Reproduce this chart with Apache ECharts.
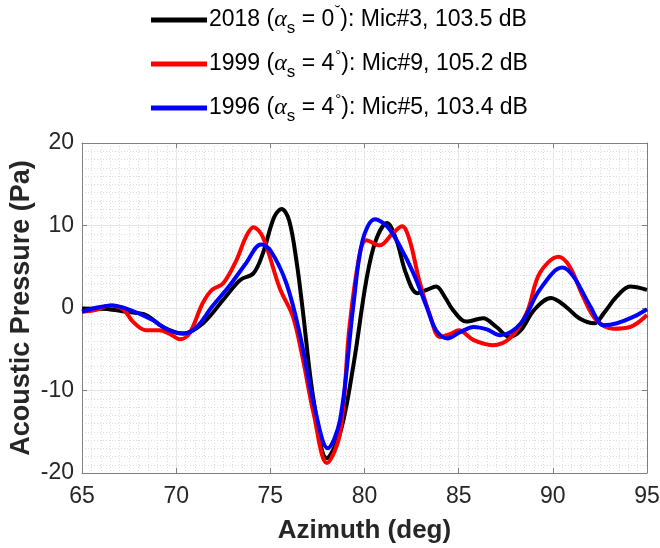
<!DOCTYPE html>
<html><head><meta charset="utf-8">
<script src="https://cdn.jsdelivr.net/npm/echarts@6/dist/echarts.min.js"></script>
<style>html,body{margin:0;padding:0;background:#fff}#c{width:660px;height:548px}</style>
</head><body><div id="c"></div>
<script>
var seriesNames = ['2018', '1999', '1996'];
var legendAngles = ['0', '4', '4'];
var legendMarks = ['˘', '°', '°'];
var legendMics = ['Mic#3, 103.5 dB', 'Mic#9, 105.2 dB', 'Mic#5, 103.4 dB'];
var xTicks = [65, 70, 75, 80, 85, 90, 95];
var yTicks = [-20, -10, 0, 10, 20];

var data2018 = [[65,-0.05],[66,-0.1],[66.6,-0.2],[67.5,-0.5],[68.4,-0.85],[69.3,-2.3],[70.35,-3.1],[71.4,-1.9],[72.5,1.0],[73.4,3.4],[74.1,4.2],[74.6,6.6],[75.2,11.0],[75.6,12.0],[76.0,10.6],[76.4,5.5],[76.7,0.15],[77.3,-11.2],[78.0,-18.2],[78.7,-15.2],[79.4,-7.1],[80.1,3.4],[80.6,8.2],[81.2,10.3],[81.7,8.2],[82.2,4.2],[82.8,1.8],[83.3,2.2],[83.8,2.6],[84.3,1.2],[84.7,-0.25],[85.4,-1.65],[86.3,-1.25],[87.0,-2.3],[87.7,-3.5],[88.3,-2.7],[89.0,-0.25],[89.9,1.2],[90.7,0.15],[91.4,-1.25],[92.2,-1.85],[92.7,-0.65],[93.4,1.4],[94.1,2.6],[95,2.2]];
var data1999 = [[65,-0.45],[65.7,-0.25],[66.5,0.3],[67.2,-0.2],[67.7,-1.65],[68.4,-2.7],[69.1,-2.7],[69.7,-3.2],[70.2,-3.8],[70.7,-3.1],[71.4,0.55],[71.9,2.2],[72.5,3.0],[73.2,5.8],[73.7,8.6],[74.1,9.8],[74.6,8.6],[75.5,2.4],[76.2,-1.05],[76.7,-5.9],[77.3,-12.8],[78.0,-18.8],[78.7,-15.2],[79.2,-2.3],[79.75,6.6],[80.1,8.2],[80.8,7.6],[81.5,9.05],[82.0,9.9],[82.4,8.2],[82.9,3.4],[83.5,-1.05],[84.0,-3.5],[84.6,-3.1],[85.0,-2.7],[85.8,-3.9],[86.8,-4.5],[87.7,-3.7],[88.6,-0.65],[89.3,4.2],[90.3,6.2],[90.9,5.0],[91.6,1.4],[92.3,-1.45],[93.2,-2.5],[94.1,-2.3],[95,-0.85]];
var data1996 = [[65,-0.45],[65.7,0],[66.6,0.3],[67.5,-0.2],[68.75,-1.45],[69.6,-2.7],[70.4,-3.1],[71.1,-2.3],[71.9,0.15],[72.8,2.6],[73.7,5.4],[74.5,7.7],[75.0,7.0],[75.85,3.0],[76.56,-3.1],[77.3,-11.5],[78.05,-17.0],[78.7,-13.6],[79.4,0.15],[79.9,8.2],[80.55,10.75],[81.2,9.9],[81.9,7.4],[82.6,4.2],[83.3,0.15],[83.8,-2.7],[84.4,-3.7],[85.1,-2.9],[85.8,-2.3],[86.5,-2.6],[87.2,-3.3],[88.3,-1.85],[89.3,2.2],[90.5,4.9],[91.1,3.8],[92.0,0.15],[92.7,-2.1],[93.4,-1.85],[94.3,-1.05],[95,-0.15]];
var colors = ['#000000', '#ff0000', '#0000ff'];
var allData = [data2018, data1999, data1996];

var FONT = 'Liberation Sans, Arial, sans-serif';
var chart = echarts.init(document.getElementById('c'), null, {renderer: 'canvas'});

function axisBase(pos, isX) {
  return {
    type: 'value',
    position: pos,
    min: isX ? xTicks[0] : yTicks[0],
    max: isX ? xTicks[xTicks.length - 1] : yTicks[yTicks.length - 1],
    interval: isX ? 5 : 10,
    axisLine: {show: true, onZero: false, lineStyle: {color: '#808080', width: 1}},
    axisTick: {show: true, inside: true, length: 5, lineStyle: {color: '#808080'}},
    splitLine: {show: false},
    axisLabel: {show: false}
  };
}

var xMain = axisBase('bottom', true);
xMain.axisLabel = {show: true, fontFamily: FONT, fontSize: 23, color: '#262626', margin: 12};
xMain.splitLine = {show: true, lineStyle: {color: '#e6e6e6', width: 1}};
xMain.minorSplitLine = {show: true, lineStyle: {color: '#dcdcdc', type: [1, 2], width: 1}};
xMain.minorTick = {show: false, splitNumber: 10};
xMain.name = 'Azimuth (deg)';
xMain.nameLocation = 'middle';
xMain.nameGap = 45;
xMain.nameTextStyle = {fontFamily: FONT, fontSize: 26, fontWeight: 'bold', color: '#262626'};

var yMain = axisBase('left', false);
yMain.axisLabel = {show: true, fontFamily: FONT, fontSize: 23, color: '#262626', margin: 8};
yMain.splitLine = {show: true, lineStyle: {color: '#e6e6e6', width: 1}};
yMain.minorSplitLine = {show: true, lineStyle: {color: '#dcdcdc', type: [1, 2], width: 1}};
yMain.minorTick = {show: false, splitNumber: 10};
yMain.name = 'Acoustic Pressure (Pa)';
yMain.nameLocation = 'middle';
yMain.nameGap = 47;
yMain.nameMoveOverlap = false;
yMain.nameTextStyle = {fontFamily: FONT, fontSize: 27, fontWeight: 'bold', color: '#262626'};

var legendRich = {
  t: {fontFamily: FONT, fontSize: 23, color: '#000', lineHeight: 30},
  a: {fontFamily: 'Liberation Serif, serif', fontStyle: 'italic', fontSize: 24, color: '#000', lineHeight: 30},
  s: {fontFamily: FONT, fontSize: 17, color: '#000', lineHeight: 30, padding: [17, 0, 0, 0]},
  d: {fontFamily: FONT, fontSize: 15, color: '#000', lineHeight: 30, padding: [0, 0, 16, 1]}
};

var option = {
  backgroundColor: '#ffffff',
  animation: false,
  color: colors,
  grid: {left: 82, right: 13, top: 143, bottom: 75, show: false, containLabel: false, outerBoundsMode: 'none'},
  legend: {
    orient: 'vertical',
    left: 146,
    top: -2,
    itemWidth: 56,
    itemHeight: 5,
    itemGap: 10,
    icon: 'rect',
    data: seriesNames,
    formatter: function (name) {
      var i = seriesNames.indexOf(name);
      return '{t|' + name + ' (}{a|α}{s|s}{t| = ' + legendAngles[i] + '}{d|' + legendMarks[i] + '}{t|): ' + legendMics[i] + '}';
    },
    textStyle: {rich: legendRich, padding: [0, 0, 0, -3]}
  },
  xAxis: [xMain, axisBase('top', true)],
  yAxis: [yMain, axisBase('right', false)],
  series: seriesNames.map(function (n, i) {
    return {
      name: n,
      type: 'line',
      data: allData[i],
      smooth: 0.35,
      showSymbol: false,
      symbol: 'none',
      lineStyle: {color: colors[i], width: 4},
      itemStyle: {color: colors[i]},
      xAxisIndex: 0,
      yAxisIndex: 0
    };
  })
};
chart.setOption(option);
</script>
</body></html>
